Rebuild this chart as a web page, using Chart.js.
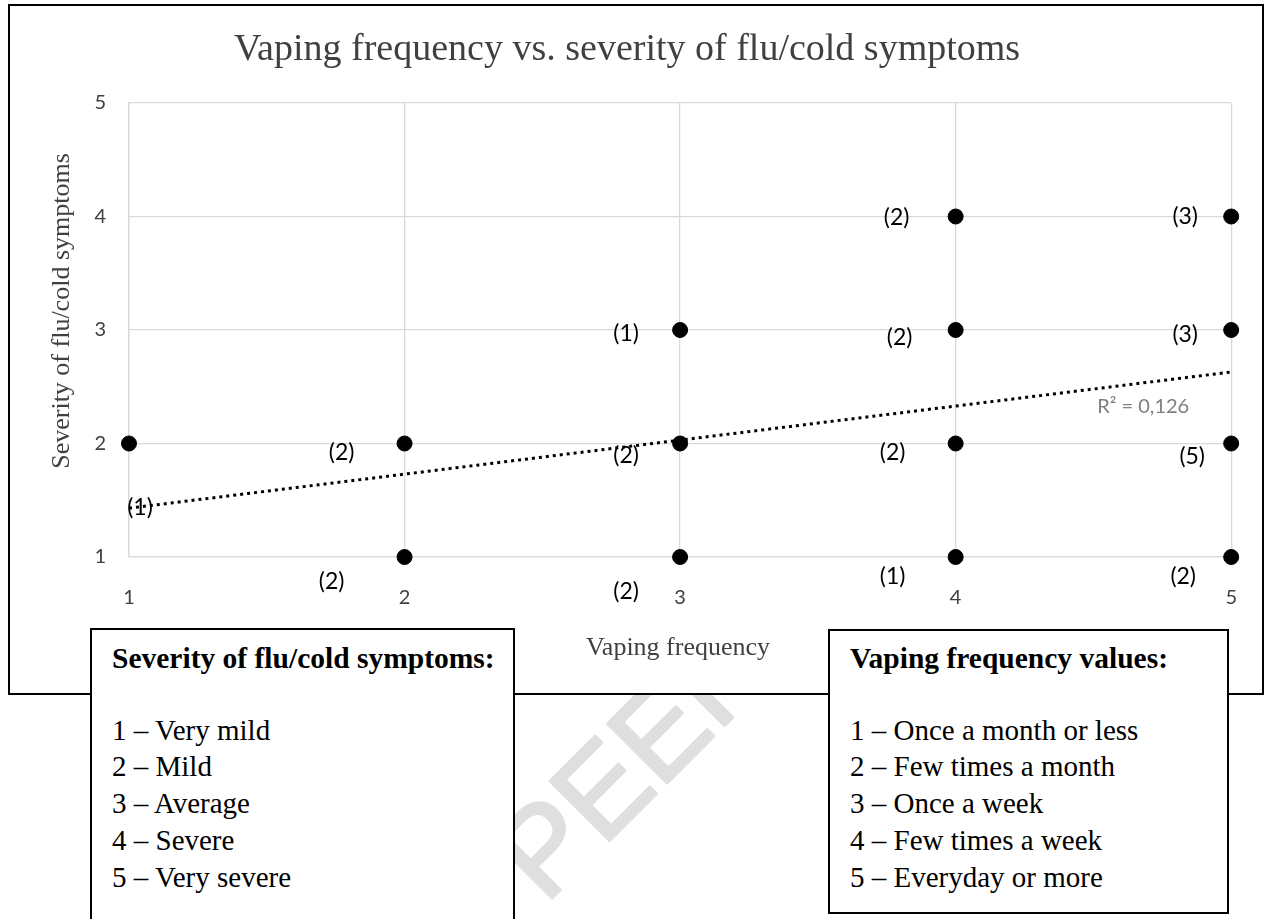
<!DOCTYPE html>
<html>
<head>
<meta charset="utf-8">
<script src="https://cdn.jsdelivr.net/npm/chart.js@4.4.1/dist/chart.umd.min.js"></script>
<style>
  body { margin: 0; background: #fff; width: 1266px; height: 919px; overflow: hidden; position: relative; }
  #chart { position: absolute; left: 0; top: 0; }
  .box {
    position: absolute; background: #fff; border: 2px solid #000; box-sizing: border-box;
    font-family: "Liberation Serif", "Times New Roman", serif; font-size: 29px; line-height: 36.7px;
    color: #000; padding: 10px 0 0 20px;
  }
  .box .head { font-weight: bold; font-size: 29.5px; margin-bottom: 35px; }
  #sevBox { left: 90px; top: 628px; width: 425px; height: 310px; }
  #freqBox { left: 828px; top: 629px; width: 401px; height: 285px; padding-top: 9px; }
</style>
</head>
<body>
<canvas id="chart" width="1266" height="919"></canvas>
<div class="box" id="sevBox"></div>
<div class="box" id="freqBox"></div>
<script>
// data: one dot per (frequency, severity) pair, count = respondents
const xValues = [1, 2, 2, 3, 3, 3, 4, 4, 4, 4, 5, 5, 5, 5];
const yValues = [2, 2, 1, 3, 2, 1, 4, 3, 2, 1, 4, 3, 2, 1];
const counts  = [1, 2, 2, 1, 2, 2, 2, 2, 2, 1, 3, 3, 5, 2];
const xTicks = [1, 2, 3, 4, 5];
const yTicks = [1, 2, 3, 4, 5];
// linear trendline (Excel), end points read at x=1 and x=5
const trendX = [1, 5];
const trendY = [1.43, 2.63];
const rSquared = '0,126';

const chartTitle = 'Vaping frequency vs. severity of flu/cold symptoms';
const xTitle = 'Vaping frequency';
const yTitle = 'Severity of flu/cold symptoms';
const severityHead = 'Severity of flu/cold symptoms:';
const severityNames = ['Very mild', 'Mild', 'Average', 'Severe', 'Very severe'];
const frequencyHead = 'Vaping frequency values:';
const frequencyNames = ['Once a month or less', 'Few times a month', 'Once a week', 'Few times a week', 'Everyday or more'];

// where each "(n)" label sits relative to its dot, in pixels
const labelShift = [[11, 64], [-63, 9], [-73, 25], [-54, 4], [-54, 12], [-54, 35], [-59, 1],
                    [-56, 8], [-63, 9], [-63, 20], [-46, 0], [-46, 5], [-39, 13], [-48, 20]];

function fillBox(id, head, names) {
  const box = document.getElementById(id);
  let html = '<div class="head">' + head + '</div>';
  names.forEach((n, i) => { html += '<div>' + yTicks[i] + ' &ndash; ' + n + '</div>'; });
  box.innerHTML = html;
}
fillBox('sevBox', severityHead, severityNames);
fillBox('freqBox', frequencyHead, frequencyNames);

const pagePlugin = {
  id: 'page',
  beforeDraw(chart) {
    const c = chart.ctx;
    c.save();
    c.fillStyle = '#fff';
    c.fillRect(0, 0, chart.width, chart.height);
    // faint watermark, sits under the chart frame
    c.translate(545, 905);
    c.rotate(-Math.PI / 4);
    c.font = '122px "Liberation Sans", Arial, sans-serif';
    c.fillStyle = '#dfdfdf';
    c.strokeStyle = '#dfdfdf';
    c.lineWidth = 3;
    c.lineJoin = 'round';
    c.textBaseline = 'alphabetic';
    c.fillText('PEER', 0, 0);
    c.strokeText('PEER', 0, 0);
    c.restore();
    // chart frame
    c.save();
    c.fillStyle = '#fff';
    c.fillRect(9, 5, 1254, 689);
    c.strokeStyle = '#000';
    c.lineWidth = 2;
    c.strokeRect(9, 5, 1254, 689);
    c.restore();
  },
  afterDatasetsDraw(chart) {
    const c = chart.ctx;
    const xs = chart.scales.x, ys = chart.scales.y;
    c.save();
    c.fillStyle = '#000';
    c.font = '23px Lato, "Open Sans", sans-serif';
    c.textAlign = 'center';
    c.textBaseline = 'middle';
    xValues.forEach((x, i) => {
      const px = xs.getPixelForValue(x) + labelShift[i][0];
      const py = ys.getPixelForValue(yValues[i]) + labelShift[i][1];
      c.fillText('(' + counts[i] + ')', px, py);
    });
    c.fillStyle = '#7f7f7f';
    c.font = '20px Lato, "Open Sans", sans-serif';
    c.fillText('R\u00b2 = ' + rSquared, xs.getPixelForValue(trendX[1]) - 88, ys.getPixelForValue(trendY[1]) + 35);
    c.restore();
  },
  afterDraw(chart) {
    const c = chart.ctx;
    c.save();
    c.fillStyle = '#404040';
    c.textAlign = 'center';
    c.textBaseline = 'middle';
    c.font = '38px "Liberation Serif", "Times New Roman", serif';
    c.fillText(chartTitle, 627, 50);
    c.font = '26px "Liberation Serif", "Times New Roman", serif';
    c.fillText(xTitle, 678, 648);
    c.translate(62, 311);
    c.rotate(-Math.PI / 2);
    c.fillText(yTitle, 0, 0);
    c.restore();
  }
};

const gridColor = '#d9d9d9';
const tickFont = { family: 'Lato, "Open Sans", sans-serif', size: 20 };

new Chart(document.getElementById('chart'), {
  type: 'scatter',
  data: {
    datasets: [
      {
        label: 'Trend',
        type: 'line',
        data: trendX.map((x, i) => ({ x: x, y: trendY[i] })),
        borderColor: '#000',
        borderWidth: 3,
        borderDash: [3, 4],
        pointRadius: 0,
        fill: false,
        clip: false,
        order: 2
      },
      {
        label: 'Responses',
        data: xValues.map((x, i) => ({ x: x, y: yValues[i] })),
        backgroundColor: '#000',
        borderColor: '#000',
        pointRadius: 7.5,
        pointHoverRadius: 7.5,
        clip: false,
        order: 1
      }
    ]
  },
  options: {
    responsive: false,
    animation: false,
    layout: { padding: { left: 49, right: 34, top: 103, bottom: 302 } },
    plugins: { legend: { display: false }, tooltip: { enabled: false } },
    scales: {
      x: {
        type: 'linear', min: xTicks[0], max: xTicks[xTicks.length - 1],
        afterBuildTicks(s) { s.ticks = xTicks.map(v => ({ value: v })); },
        ticks: { padding: 29, color: '#404040', font: tickFont },
        grid: { color: gridColor, lineWidth: 1.3, drawTicks: false },
        border: { color: gridColor, width: 1.3 },
        afterFit(s) { s.height = 60; }
      },
      y: {
        type: 'linear', min: yTicks[0], max: yTicks[yTicks.length - 1],
        afterBuildTicks(s) { s.ticks = yTicks.map(v => ({ value: v })); },
        ticks: { padding: 23, color: '#404040', font: tickFont },
        grid: { color: gridColor, lineWidth: 1.3, drawTicks: false },
        border: { color: gridColor, width: 1.3 },
        afterFit(s) { s.width = 80; }
      }
    }
  },
  plugins: [pagePlugin]
});
</script>
</body>
</html>
